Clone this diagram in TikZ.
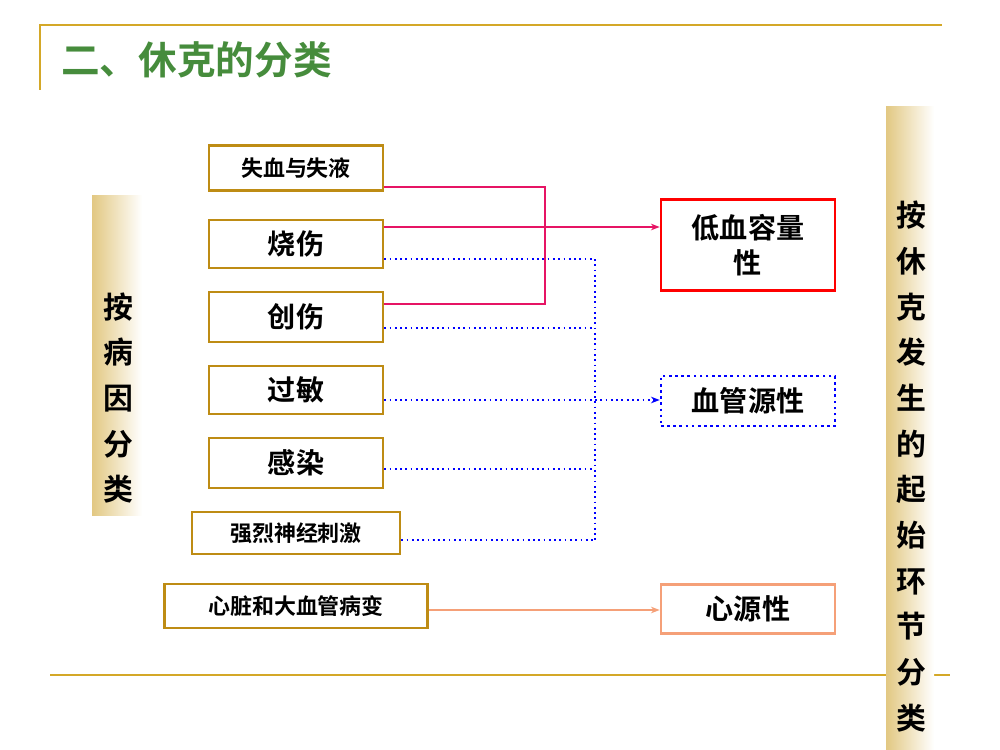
\documentclass[tikz,border=0pt]{standalone}
\usepackage{fontspec}
\newfontfamily\cjk{Noto Sans CJK SC}[BoldFont={Noto Sans CJK SC Bold}]
\usetikzlibrary{positioning,arrows.meta}
\definecolor{goldline}{RGB}{212,168,40}
\definecolor{goldbox}{RGB}{190,140,20}
\definecolor{barcol}{RGB}{226,200,130}
\definecolor{titlegreen}{RGB}{70,140,60}
\definecolor{redline}{RGB}{230,20,100}
\definecolor{salmon}{RGB}{245,160,120}

\tikzset{
  cause/.style={draw=goldbox, line width=1.5pt, minimum height=0.9cm,
                inner sep=0pt, font=\cjk\bfseries\fontsize{16}{16}\selectfont},
  small/.style={font=\cjk\bfseries\fontsize{12.5}{13}\selectfont},
  kind/.style={line width=1.5pt, minimum width=3.48cm, inner sep=0pt,
               align=center, font=\cjk\bfseries\fontsize{16}{20}\selectfont},
  bar/.style={left color=barcol, right color=white, draw=none},
  redarrow/.style={draw=redline, line width=1pt, -{Stealth[length=5pt]}},
  bluearrow/.style={draw=blue, line width=1pt, dotted, -{Stealth[length=5pt]}}
}

\begin{document}
\begin{tikzpicture}[x=0.02cm, y=-0.02cm]
\useasboundingbox (0,0) rectangle (1000,750);

% title and frame lines
\draw[goldline, line width=1.5pt] (40,90) -- (40,25) -- (942,25);
\draw[goldline, line width=1.2pt] (50,675) -- (950,675);
\node[anchor=west, text=titlegreen, font=\cjk\bfseries\fontsize{22}{22}\selectfont] (title) at (55,60) {二、休克的分类};

% side bars
\fill[bar] (92,195) rectangle (142,515);
\node[align=center, font=\cjk\bfseries\fontsize{17}{26}\selectfont] (lefttext) at (118,398) {按\\病\\因\\分\\类};
\fill[bar] (886,107) rectangle (934,750);
\node[align=center, anchor=north, font=\cjk\bfseries\fontsize{17}{26}\selectfont] (righttext) at (911,195) {按\\休\\克\\发\\生\\的\\起\\始\\环\\节\\分\\类};

% causes
\node[cause, small, minimum width=3.48cm] (loss) at (296,168) {失血与失液};
\node[cause, minimum width=3.48cm, minimum height=0.96cm] (burn) at (296,244) {烧伤};
\node[cause, minimum width=3.48cm, minimum height=1cm] (trauma) at (296,317) {创伤};
\node[cause, minimum width=3.48cm, minimum height=0.96cm] (allergy) at (296,390) {过敏};
\node[cause, minimum width=3.48cm, minimum height=1cm] (infect) at (296,463) {感染};
\node[cause, small, minimum width=4.16cm, minimum height=0.84cm] (nerve) at (296,533) {强烈神经刺激};
\node[cause, small, minimum width=5.26cm, minimum height=0.88cm] (heart) at (296,606) {心脏和大血管病变};

% kinds
\node[kind, draw=red, minimum height=1.82cm] (hypo) at (748,245) {低血容量\\性};
\node[kind, draw=blue, dotted, minimum height=1cm] (vaso) at (748,401) {血管源性};
\node[kind, draw=salmon, minimum height=0.98cm] (cardio) at (748,609) {心源性};

% red connectors
\draw[redline, line width=1pt] ([yshift=-11pt]loss.east) -| (545,304) -- (trauma.east |- 0,304);
\draw[redarrow] (burn.east |- 0,227) -- (hypo.west |- 0,227);

% blue connectors
\coordinate (bus) at (595,259);
\draw[draw=blue, line width=1pt, dotted] (burn.east |- bus) -- (bus) -- (595,540);
\draw[draw=blue, line width=1pt, dotted] (trauma.east |- 0,328) -- (595,328);
\draw[bluearrow] (allergy.east |- 0,400) -- (vaso.west |- 0,400);
\draw[draw=blue, line width=1pt, dotted] (infect.east |- 0,469) -- (595,469);
\draw[draw=blue, line width=1pt, dotted] (nerve.east |- 0,540) -- (595,540);

% salmon connector
\draw[draw=salmon, line width=1pt, -{Stealth[length=5pt]}] (heart.east |- 0,610) -- (cardio.west |- 0,610);
\end{tikzpicture}
\end{document}
